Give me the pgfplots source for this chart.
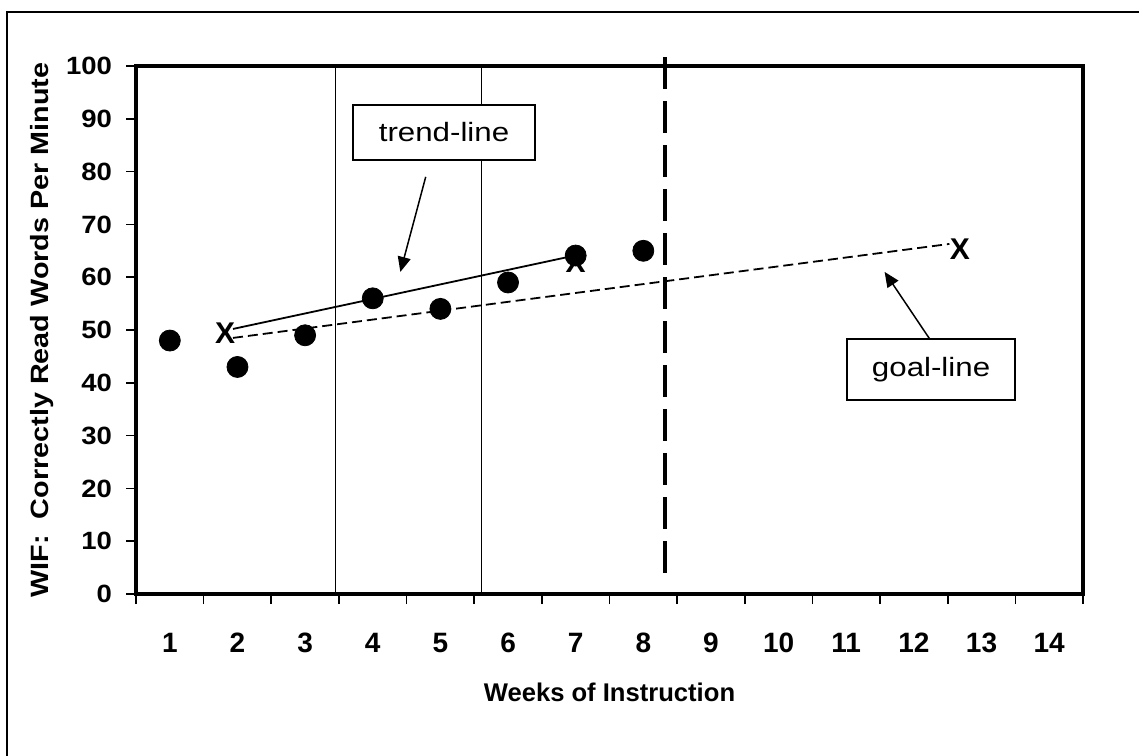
\documentclass[border=0pt]{standalone}
\usepackage{fontspec}
\setmainfont{Liberation Sans}
\newfontfamily\boxfont{Liberation Sans}[FakeStretch=1.18]
\newfontfamily\ylabfont{Liberation Sans}[FakeStretch=1.15]
\newfontfamily\ytickfont{Liberation Sans}[FakeStretch=1.1]
\usepackage{pgfplots}
\pgfplotsset{compat=1.18}
\usetikzlibrary{arrows.meta}
\begin{document}
\begin{tikzpicture}
\useasboundingbox (0,0) rectangle (569.5pt,377.5pt);
\draw[line width=1.2pt] (3.5pt,-2pt) -- (3.5pt,371.5pt) -- (572pt,371.5pt);
\begin{axis}[
  at={(68pt,80.5pt)}, anchor=south west,
  scale only axis, width=473.5pt, height=264pt,
  xmin=0.5, xmax=14.5, ymin=0, ymax=100,
  clip=false,
  axis line style={line width=1.8pt},
  xtick={0.5,1.5,...,14.5},
  xticklabels={1,2,3,4,5,6,7,8,9,10,11,12,13,14,{}},
  xticklabel style={anchor=center, xshift=16.91pt, yshift=-19.5pt, font=\fontsize{14}{16}\selectfont\bfseries},
  ytick={0,10,...,100},
  yticklabel style={anchor=east, xshift=-3.5pt, font=\ytickfont\fontsize{12.5}{15}\selectfont\bfseries},
  tick align=outside, xtick pos=bottom, ytick pos=left,
  major tick length=5pt,
  tick style={line width=0.8pt, black},
  /pgf/number format/assume math mode=true,
  ylabel={WIF:~ Correctly Read Words Per Minute},
  xlabel={Weeks of Instruction},
  every axis y label/.style={at={([xshift=-47pt]axis description cs:0,0.5)}, rotate=90, anchor=center, font=\ylabfont\fontsize{12.5}{15}\selectfont\bfseries},
  every axis x label/.style={at={([yshift=-49pt]axis description cs:0.5,0)}, anchor=center, font=\fontsize{12.8}{15}\selectfont\bfseries},
]
% vertical phase lines
\addplot[black, line width=0.75pt] coordinates {(3.45,0) (3.45,100)};
\addplot[black, line width=0.75pt] coordinates {(5.61,0) (5.61,100)};
\addplot[black, line width=2pt, dash pattern=on 16pt off 6pt] coordinates {(8.32,101.7) (8.32,3.6)};
% goal line and trend line
\addplot[black, line width=0.9pt, dash pattern=on 5pt off 2.5pt] coordinates {(1.934,48.5) (12.525,66.3)};
\addplot[black, line width=0.9pt] coordinates {(1.934,50.2) (6.95,64)};
% X markers
\addplot[only marks, mark=text, text mark={\fontsize{15}{15}\selectfont\bfseries X}] coordinates {(1.816,49.4) (7.0,62.9) (12.68,65.3)};
% data points
\addplot[only marks, mark=*, mark size=5.25pt, black] coordinates {(1,48) (2,43) (3,49) (4,56) (5,54) (6,59) (7,64.1) (8,65)};
% annotations
\node[draw, fill=white, line width=0.75pt, minimum width=91pt, minimum height=27.5pt, inner sep=0pt, font=\boxfont\fontsize{13.25}{16}\selectfont] at (axis cs:5.054,87.4) {trend-line};
\node[draw, fill=white, line width=0.75pt, minimum width=84pt, minimum height=30.5pt, inner sep=0pt, font=\boxfont\fontsize{13.25}{16}\selectfont] at (axis cs:12.254,42.5) {goal-line};
\draw[-{Triangle[length=7.5pt,width=6.5pt]}, line width=0.75pt] (axis cs:4.783,79.0) -- (axis cs:4.408,61.0);
\draw[-{Triangle[length=7.5pt,width=6.5pt]}, line width=0.75pt] (axis cs:12.228,48.4) -- (axis cs:11.567,61.0);
\end{axis}
\end{tikzpicture}
\end{document}
